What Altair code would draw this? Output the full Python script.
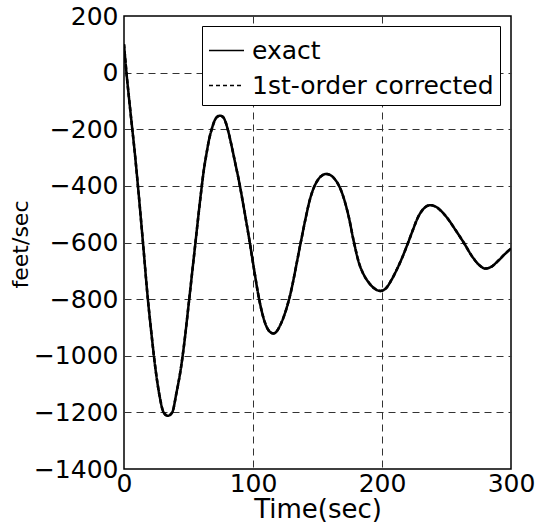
import altair as alt
import pandas as pd

# Values
time_s = [0, 1.9, 4, 6.2, 8.3, 10.8, 14.7, 18.5, 21, 24.5, 27.5, 30.7, 34, 37.4, 40.5,
          44.4, 47, 50.2, 55.4, 59.8, 62, 64, 66, 68, 70, 72, 74.5, 77, 79, 80.4,
          83, 86, 89, 93, 97.5, 101, 104, 107, 110, 113, 115.9, 118.5, 121, 124, 128,
          137, 141, 144, 147, 150, 153, 156.9, 160, 163, 166.7, 170, 174, 178.3, 182,
          186, 190, 194, 198.9, 203, 207, 211, 215.5, 220.3, 224, 228, 232, 235, 237.6,
          241, 245, 250, 257, 263.3, 270, 275, 280, 285, 290, 295, 300]
exact_fps = [100, 0, -95, -190, -280, -400, -600, -800, -910, -1050, -1140, -1200, -1212, -1200, -1135,
             -1035, -945, -815, -600, -420, -340, -285, -235, -200, -172, -157, -152, -158, -178, -200,
             -250, -315, -380, -480, -600, -700, -782, -847, -892, -915, -921, -913, -893, -860, -800,
             -600, -510, -450, -408, -381, -365, -358, -362, -374, -400, -438, -505, -600, -670,
             -715, -743, -762, -771, -762, -735, -700, -655, -600, -555, -510, -482, -471, -468,
             -472, -485, -510, -556, -600, -650, -678, -692, -685, -665, -642, -621]
corrected_fps = list(exact_fps)  # the two curves coincide at this scale

series_names = ["exact", "1st-order corrected"]
x_ticks = [0, 100, 200, 300]
y_ticks = list(range(-1400, 201, 200))

df = pd.concat([
    pd.DataFrame({"t": time_s, "v": exact_fps, "series": series_names[0]}),
    pd.DataFrame({"t": time_s, "v": corrected_fps, "series": series_names[1]}),
])

FONT = "DejaVu Sans"

x_grid_op = {"condition": {"test": "datum.value == 0 || datum.value == 300", "value": 0}, "value": 1}
y_grid_op = {"condition": {"test": "datum.value == 200 || datum.value == -1400", "value": 0}, "value": 1}

chart = alt.Chart(df).mark_line(
    color="black", strokeWidth=2.5, interpolate="monotone", clip=True
).encode(
    x=alt.X("t:Q",
            scale=alt.Scale(domain=[0, 300], nice=False, zero=False),
            axis=alt.Axis(values=x_ticks, title="Time(sec)", domain=False, ticks=False,
                          format="d",
                          labelFont=FONT, labelFontSize=25, labelColor="black", labelPadding=2,
                          labelFlush=False,
                          titleFont=FONT, titleFontSize=26, titleFontWeight="normal",
                          titleColor="black", titlePadding=0,
                          grid=True, gridColor="#333333", gridDash=[7, 5], gridWidth=1,
                          gridOpacity=x_grid_op)),
    y=alt.Y("v:Q",
            scale=alt.Scale(domain=[-1400, 200], nice=False, zero=False),
            axis=alt.Axis(values=y_ticks, title="feet/sec", domain=False, ticks=False,
                          format="d",
                          labelFont=FONT, labelFontSize=25, labelColor="black", labelPadding=6,
                          labelFlush=False,
                          titleFont=FONT, titleFontSize=22, titleFontWeight="normal",
                          titleColor="black", titleAngle=270, titleX=-97, titleY=228,
                          titleAlign="center", titleBaseline="alphabetic",
                          grid=True, gridColor="#333333", gridDash=[7, 5], gridWidth=1,
                          gridOpacity=y_grid_op)),
    strokeDash=alt.StrokeDash("series:N",
                              scale=alt.Scale(domain=series_names, range=[[1, 0], [4, 3]]),
                              sort=series_names,
                              legend=alt.Legend(title=None, orient="none", legendX=78, legendY=10,
                                                fillColor="white", strokeColor="black",
                                                padding=6, symbolType="stroke", symbolSize=1225,
                                                symbolStrokeWidth=1.5, symbolStrokeColor="black",
                                                labelFont=FONT, labelFontSize=25, labelColor="black",
                                                labelOffset=7, rowPadding=3, labelLimit=400)),
).properties(
    width=387, height=453,
    autosize=alt.AutoSizeParams(type="none"),
    padding={"left": 124, "top": 16, "right": 27, "bottom": 58},
    background="white",
).configure_view(stroke="black", strokeWidth=1.5)

chart.save("out.html", embed_options={"renderer": "svg", "actions": False})
